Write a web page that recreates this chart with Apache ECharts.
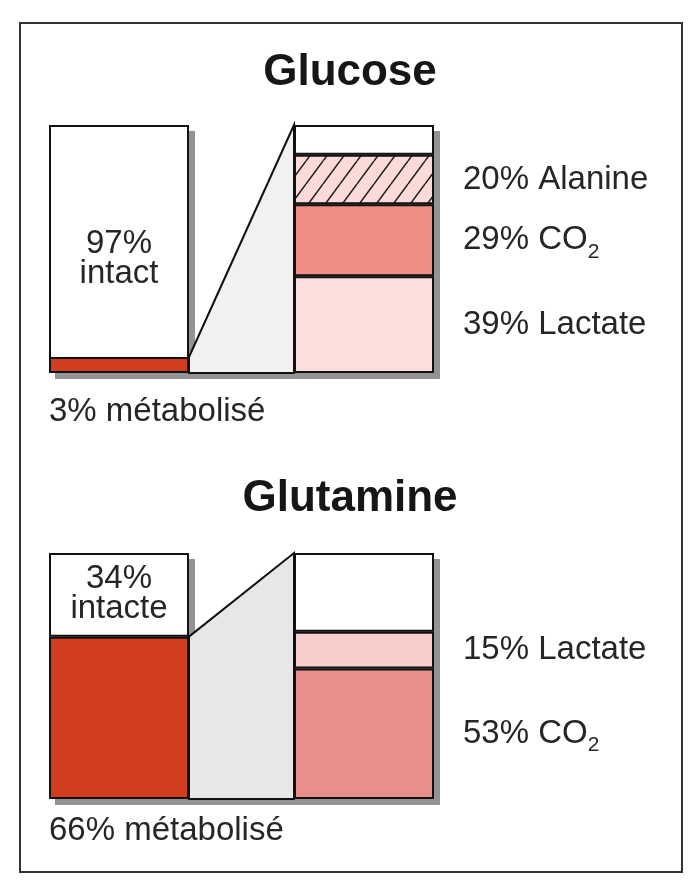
<!DOCTYPE html>
<html><head><meta charset="utf-8">
<script src="https://cdn.jsdelivr.net/npm/echarts@6/dist/echarts.min.js"></script>
<style>html,body{margin:0;padding:0;background:#fff}#c{width:700px;height:892px}</style>
</head><body><div id="c"></div>
<script>
// ---------- DATA ----------
const panelTitles = ['Glucose', 'Glutamine'];
const categories = ['total', 'détail'];
const intactValues = [97, 34];
const metabolizedValues = [3, 66];
const intactWords = ['intact', 'intacte'];
const metabolizedWord = 'métabolisé';
// breakdown of metabolized fraction, bottom to top
const glucoseProducts = ['Lactate', 'CO2', 'Alanine'];
const glucoseProductValues = [39, 29, 20];
const glutamineProducts = ['CO2', 'Lactate'];
const glutamineProductValues = [53, 15];
const otherValues = [12, 32]; // unlabelled (white) top part of detail bar

// ---------- STYLE ----------
const FONT = '"Liberation Sans", Arial, Helvetica, sans-serif';
const TXT = '#262626';
const BAR_W = 140;
const MIN_H = 16;
const RED = '#d23d1f';

function hatch(bg) {
  const w = 17, h = 23;
  const c = document.createElement('canvas');
  c.width = w; c.height = h;
  const g = c.getContext('2d');
  g.fillStyle = bg; g.fillRect(0, 0, w, h);
  g.strokeStyle = '#1e1e1e'; g.lineWidth = 1.5;
  g.beginPath();
  for (let k = -1; k <= 1; k++) { g.moveTo(k * w, h); g.lineTo(k * w + w, 0); }
  g.stroke();
  return { image: c, repeat: 'repeat' };
}

const PANELS = [
  { top: 125, height: 248, titleTop: 46, conn: '#f1f1f1', intactOffset: [0, 14], metaOffset: [0, 22],
    products: glucoseProducts, values: glucoseProductValues,
    colors: { Lactate: '#fcdedd', CO2: '#ee8e85', Alanine: hatch('#fcdad8') } },
  { top: 553, height: 246, titleTop: 472, conn: '#e7e7e7', intactOffset: [0, -1], metaOffset: [0, 15],
    products: glutamineProducts, values: glutamineProductValues,
    colors: { CO2: '#e98f8b', Lactate: '#f9cdcb' } }
];

const rich = {
  t: { fontSize: 33, color: TXT, fontFamily: FONT, lineHeight: 44 },
  s: { fontSize: 21, color: TXT, fontFamily: FONT, lineHeight: 20, verticalAlign: 'bottom' }
};

const grid = [], xAxis = [], yAxis = [], series = [], title = [];
PANELS.forEach((P, i) => {
  grid.push({ left: 119, width: 245, top: P.top, height: P.height });
  xAxis.push({ type: 'category', data: categories, gridIndex: i, boundaryGap: false, show: false });
  yAxis.push({ type: 'value', gridIndex: i, min: 0, max: 100, show: false });
  title.push({ text: panelTitles[i], left: 'center', top: P.titleTop,
    textStyle: { fontSize: 44, fontWeight: 'bold', color: '#161616', fontFamily: FONT } });
  const stack = 's' + i;
  const common = { type: 'bar', xAxisIndex: i, yAxisIndex: i, stack, barWidth: BAR_W, silent: true, animation: false };
  // metabolized
  series.push(Object.assign({}, common, {
    name: metabolizedWord, z: 3, barMinHeight: MIN_H,
    data: [metabolizedValues[i], '-'],
    itemStyle: { color: RED, borderColor: '#111', borderWidth: 2 },
    label: { show: true, position: [0, '100%'], align: 'left', verticalAlign: 'top', offset: P.metaOffset,
      formatter: p => p.value + '% ' + metabolizedWord,
      fontSize: 33, color: TXT, fontFamily: FONT }
  }));
  // intact
  series.push(Object.assign({}, common, {
    name: intactWords[i], z: 2,
    data: [intactValues[i], '-'],
    itemStyle: { color: '#ffffff', borderColor: '#111', borderWidth: 2 },
    label: { show: true, position: 'inside', offset: P.intactOffset, lineHeight: 30,
      formatter: p => p.value + '%\n' + intactWords[i],
      fontSize: 33, color: TXT, fontFamily: FONT }
  }));
  // products
  P.products.forEach((name, k) => {
    series.push(Object.assign({}, common, {
      name, z: 2,
      data: ['-', P.values[k]],
      itemStyle: { color: P.colors[name], borderColor: '#111', borderWidth: 2 },
      label: { show: true, position: 'right', distance: 29, rich,
        formatter: p => name === 'CO2' ? '{t|' + p.value + '% CO}{s|2}' : '{t|' + p.value + '% ' + name + '}' }
    }));
  });
  series.push(Object.assign({}, common, {
    name: 'autre', z: 2, data: ['-', otherValues[i]],
    itemStyle: { color: '#ffffff', borderColor: '#111', borderWidth: 2 }
  }));
  // connector + shadow
  series.push({
    type: 'custom', xAxisIndex: i, yAxisIndex: i, z: 1, silent: true, animation: false,
    data: [[0, metabolizedValues[i]]],
    renderItem(params, api) {
      const m = api.value(1);
      const cx0 = api.coord([0, 0])[0], cx1 = api.coord([1, 0])[0];
      const yBot = api.coord([0, 0])[1], yTop = api.coord([0, 100])[1];
      const yM = Math.min(api.coord([0, m])[1], yBot - MIN_H);
      const xL0 = cx0 - BAR_W / 2, xL1 = cx0 + BAR_W / 2, xR0 = cx1 - BAR_W / 2, xR1 = cx1 + BAR_W / 2;
      const S = 6;
      const sh = [[xL0, yTop], [xL1, yTop], [xL1, yM], [xR0, yTop], [xR1, yTop], [xR1, yBot], [xL0, yBot]]
        .map(p => [p[0] + S, p[1] + S]);
      return { type: 'group', children: [
        { type: 'polygon', shape: { points: sh }, style: { fill: '#939393' } },
        { type: 'polygon', shape: { points: [[xL1, yM], [xR0, yTop], [xR0, yBot], [xL1, yBot]] },
          style: { fill: P.conn, stroke: '#111', lineWidth: 2 } }
      ] };
    }
  });
});

const chart = echarts.init(document.getElementById('c'), null, { renderer: 'canvas' });
chart.setOption({
  backgroundColor: '#ffffff',
  animation: false,
  title, grid, xAxis, yAxis, series,
  graphic: [{ type: 'rect', z: -10, shape: { x: 20, y: 23, width: 662, height: 849 },
    style: { fill: 'transparent', stroke: '#333', lineWidth: 2 } }]
});
</script>
</body></html>
